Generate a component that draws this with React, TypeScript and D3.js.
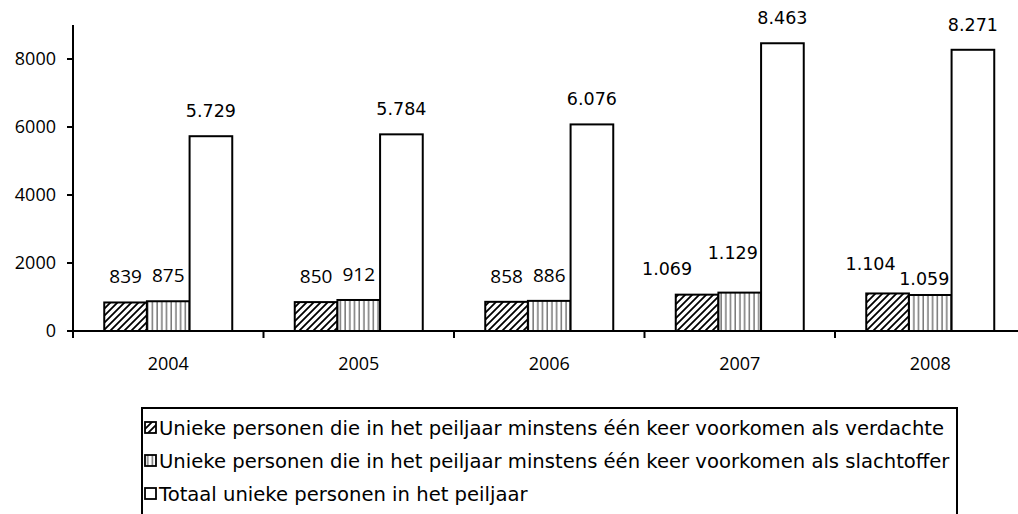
import React from 'react';
import * as d3 from 'd3';

const years = ['2004', '2005', '2006', '2007', '2008'];
const series = ['verdachte', 'slachtoffer', 'totaal'];
const verdachte = [839, 850, 858, 1069, 1104];
const slachtoffer = [875, 912, 886, 1129, 1059];
const totaal = [5729, 5784, 6076, 8463, 8271];
const yTicks = [0, 2000, 4000, 6000, 8000];
const legendLabels = [
  'Unieke personen die in het peiljaar minstens één keer voorkomen als verdachte',
  'Unieke personen die in het peiljaar minstens één keer voorkomen als slachtoffer',
  'Totaal unieke personen in het peiljaar',
];
// hand placed label nudges (Excel moved these to avoid overlaps) [dx, dy]
const labelNudge: Record<string, [number, number]> = {
  'verdachte-2007': [-30, -1],
  'slachtoffer-2007': [-7, -15],
  'verdachte-2008': [-17, -4],
  'slachtoffer-2008': [-6, 9],
};

const W = 1018;
const H = 514;
const fills = ['url(#hatch)', 'url(#vlines)', '#fff'];

const nl = d3.formatLocale({ decimal: ',', thousands: '.', grouping: [3], currency: ['€', ''] });
const fmt = nl.format(',d');

export default function App() {
  const values = [verdachte, slachtoffer, totaal];

  const x = d3.scaleBand().domain(years).range([73, 1025.5]);
  const inner = (x.bandwidth() - 128) / 2;
  const x1 = d3.scaleBand().domain(series).range([inner, inner + 128]);
  const y = d3.scaleLinear().domain([0, 9000]).range([331, 25]);

  const labelFont = (v: number) => (v >= 1000 ? 'DejaVu Sans' : 'Open Sans');

  return (
    <svg
      width={W}
      height={H}
      style={{ position: 'absolute', left: 0, top: 0, background: '#fff' }}
    >
      <defs>
        <pattern id="hatch" patternUnits="userSpaceOnUse" width="7" height="7">
          <rect width="7" height="7" fill="#fff" />
          <path d="M-1,8 L8,-1 M-4.5,4.5 L4.5,-4.5 M2.5,11.5 L11.5,2.5" stroke="#000" strokeWidth="1.8" />
        </pattern>
        <pattern id="vlines" patternUnits="userSpaceOnUse" width="4.7" height="10">
          <rect width="4.7" height="10" fill="#fff" />
          <line x1="2" y1="0" x2="2" y2="10" stroke="#333" strokeWidth="1" />
        </pattern>
      </defs>

      {/* bars */}
      {years.map((yr, i) =>
        series.map((s, j) => {
          const v = values[j][i];
          const bx = (x(yr) as number) + (x1(s) as number);
          return (
            <rect
              key={s + yr}
              x={bx}
              y={y(v)}
              width={x1.bandwidth()}
              height={y(0) - y(v)}
              fill={fills[j]}
              stroke="#000"
              strokeWidth={2}
            />
          );
        })
      )}

      {/* data labels */}
      {years.map((yr, i) =>
        series.map((s, j) => {
          const v = values[j][i];
          const [dx, dy] = labelNudge[s + '-' + yr] || [0, 0];
          const cx = (x(yr) as number) + (x1(s) as number) + x1.bandwidth() / 2;
          return (
            <text
              key={'l' + s + yr}
              x={cx + dx}
              y={y(v) - 19 + dy}
              textAnchor="middle"
              fontFamily={labelFont(v)}
              fontSize={v >= 1000 ? 17.5 : 19}
              fill="#000"
            >
              {fmt(v)}
            </text>
          );
        })
      )}

      {/* y axis */}
      <line x1={73} x2={73} y1={y(9000)} y2={y(0)} stroke="#000" strokeWidth={2} />
      {yTicks.map((t) => (
        <g key={t}>
          <line x1={67} x2={73} y1={y(t)} y2={y(t)} stroke="#000" strokeWidth={2} />
          <text
            x={56}
            y={y(t)}
            dy="0.35em"
            textAnchor="end"
            fontFamily="Open Sans"
            fontSize={18}
            fill="#000"
          >
            {t}
          </text>
        </g>
      ))}

      {/* x axis */}
      <line x1={72} x2={W} y1={y(0)} y2={y(0)} stroke="#000" strokeWidth={2} />
      {years.map((yr) => (
        <g key={'x' + yr}>
          <line x1={x(yr)} x2={x(yr)} y1={y(0)} y2={y(0) + 7} stroke="#000" strokeWidth={2} />
          <text
            x={(x(yr) as number) + x.bandwidth() / 2}
            y={370}
            textAnchor="middle"
            fontFamily="Open Sans"
            fontSize={18}
            fill="#000"
          >
            {yr}
          </text>
        </g>
      ))}

      {/* legend */}
      <rect x={142} y={408} width={815} height={120} fill="none" stroke="#000" strokeWidth={2} />
      {legendLabels.map((lab, i) => {
        const cy = 428 + i * 33;
        return (
          <g key={lab}>
            <rect x={145} y={cy - 6} width={11} height={11} fill={fills[i]} stroke="#000" strokeWidth={1.8} />
            <text x={159} y={cy} dy="0.35em" fontFamily="DejaVu Sans" fontSize={19.6} fill="#000">
              {lab}
            </text>
          </g>
        );
      })}
    </svg>
  );
}
